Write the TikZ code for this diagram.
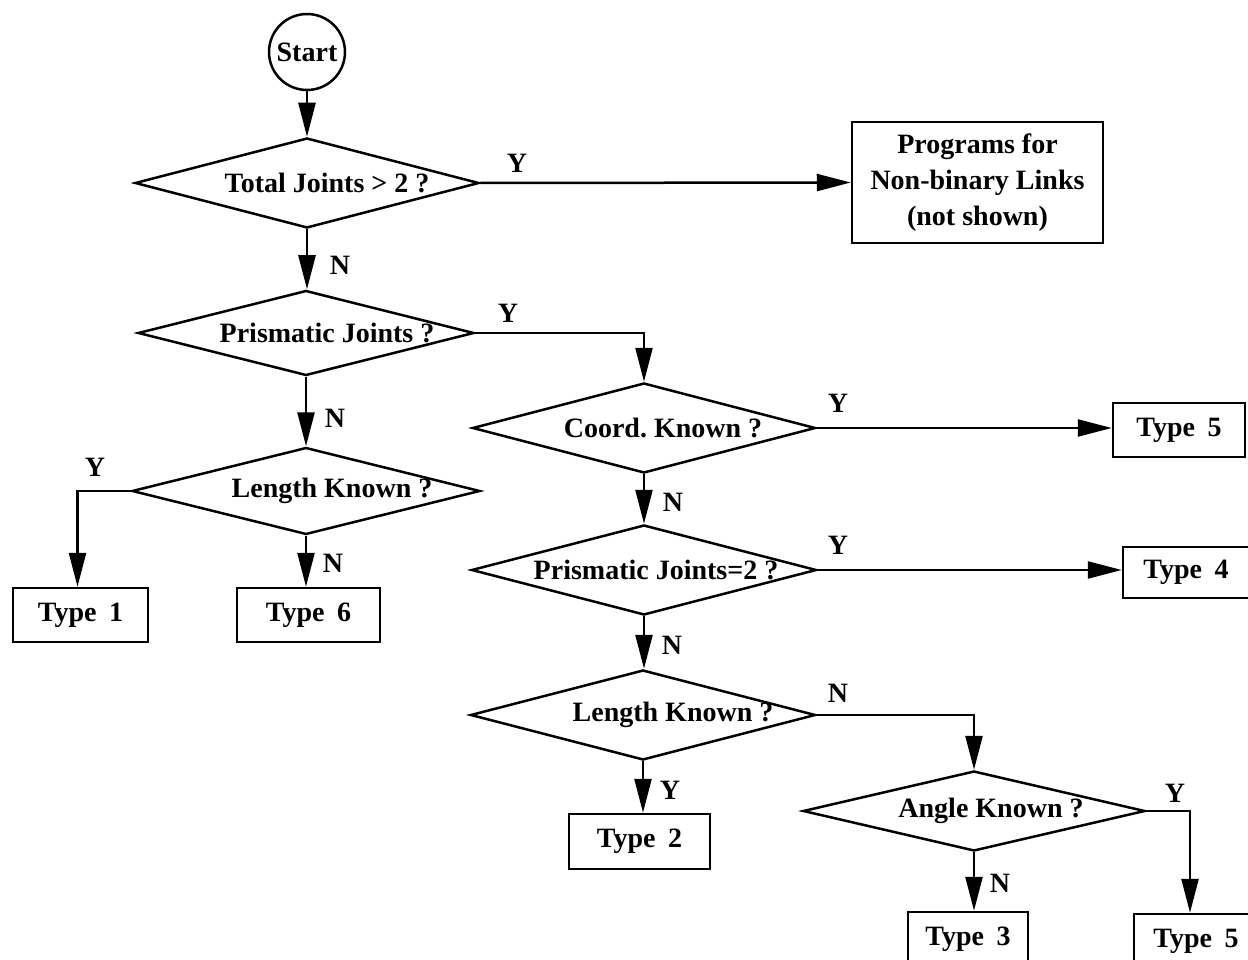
\documentclass[tikz,border=0pt]{standalone}
\usepackage{fontspec}
\setmainfont{Liberation Serif}
\usetikzlibrary{shapes.geometric,arrows.meta}
\frenchspacing
\begin{document}
\begin{tikzpicture}[x=1pt,y=-1pt,
  every node/.style={font=\fontsize{28}{36}\selectfont\bfseries},
  dec/.style={draw, diamond, aspect=4, inner sep=0pt, line width=2.5pt},
  box/.style={draw, rectangle, line width=2.5pt, inner sep=0pt, align=center},
  lbl/.style={inner sep=0pt},
  flow/.style={line width=2.5pt, -{Triangle[length=34pt,width=17pt]}}]
\useasboundingbox (0,0) rectangle (1248,960);
\fill[white] (0,0) rectangle (1248,960);

% nodes
\node[draw, circle, line width=2.5pt, minimum size=76pt, inner sep=0pt] (start) at (307,52) {Start};
\node[dec, minimum width=344pt, minimum height=90pt,
  label={[lbl,xshift=20pt]center:{Total Joints > 2 ?}}] (d1) at (307,183) {};
\node[box, minimum width=251pt, minimum height=121pt] (prog) at (977.5,182.5)
  {Programs for\\Non-binary Links\\(not shown)};
\node[dec, minimum width=336pt, minimum height=85pt,
  label={[lbl,xshift=21pt]center:{Prismatic Joints ?}}] (d2) at (306,333) {};
\node[dec, minimum width=348pt, minimum height=87pt,
  label={[lbl,xshift=26pt]center:{Length Known ?}}] (d7) at (306,491) {};
\node[box, minimum width=135pt, minimum height=54pt] (t1) at (80.5,615) {Type\hspace{0.45em}1};
\node[box, minimum width=143pt, minimum height=54pt] (t6) at (308.5,615) {Type\hspace{0.45em}6};
\node[dec, minimum width=343pt, minimum height=90pt,
  label={[lbl,xshift=19pt]center:{Coord. Known ?}}] (d3) at (644,428) {};
\node[box, minimum width=132pt, minimum height=54pt] (t5a) at (1179,430) {Type\hspace{0.45em}5};
\node[dec, minimum width=345pt, minimum height=90pt,
  label={[lbl,xshift=12pt]center:{Prismatic Joints=2 ?}}] (d4) at (644,570) {};
\node[box, minimum width=126pt, minimum height=51pt] (t4) at (1186,572.5) {Type\hspace{0.45em}4};
\node[dec, minimum width=345pt, minimum height=90pt,
  label={[lbl,xshift=30pt]center:{Length Known ?}}] (d5) at (643,715) {};
\node[box, minimum width=141pt, minimum height=55pt] (t2) at (639.5,841.5) {Type\hspace{0.45em}2};
\node[dec, minimum width=342pt, minimum height=80pt,
  label={[lbl,xshift=17pt]center:{Angle Known ?}}] (d6) at (974,811) {};
\node[box, minimum width=120pt, minimum height=54pt] (t3) at (968,939) {Type\hspace{0.45em}3};
\node[box, minimum width=124pt, minimum height=54pt] (t5b) at (1196,941) {Type\hspace{0.45em}5};

% connectors
\draw[flow] (start) -- (d1.north);
\draw[flow] (d1.east) -- (prog.west);
\draw[flow] (d1.south) -- (d1.south |- d2.north);
\draw[flow] (d2.east) -| (d3.north);
\draw[flow] (d2.south) -- (d7.north);
\draw[flow] (d7.west) -| ([xshift=-3pt]t1.north);
\draw[flow] (d7.south) -- (d7.south |- t6.north);
\draw[flow] (d3.east) -- (d3.east -| t5a.west);
\draw[flow] (d3.south) -- (d4.north);
\draw[flow] (d4.east) -- (d4.east -| t4.west);
\draw[flow] (d4.south) -- (d4.south |- d5.north);
\draw[flow] (d5.south) -- (d5.south |- t2.north);
\draw[flow] (d5.east) -| (d6.north);
\draw[flow] (d6.south) -- (d6.south |- t3.north);
\draw[flow] (d6.east) -| ([xshift=-6pt]t5b.north);

% branch labels
\node[lbl] (y1) at (517,163) {Y};
\node[lbl] (n1) at (340,265) {N};
\node[lbl] (y2) at (508,313) {Y};
\node[lbl] (n2) at (335,418) {N};
\node[lbl] (y3) at (95,467) {Y};
\node[lbl] (n3) at (333,563) {N};
\node[lbl] (y4) at (838,403) {Y};
\node[lbl] (n4) at (673,502) {N};
\node[lbl] (y5) at (838,545) {Y};
\node[lbl] (n5) at (672,645) {N};
\node[lbl] (n6) at (838,693) {N};
\node[lbl] (y6) at (670,790) {Y};
\node[lbl] (y7) at (1175,793) {Y};
\node[lbl] (n7) at (1000,883) {N};
\end{tikzpicture}
\end{document}
